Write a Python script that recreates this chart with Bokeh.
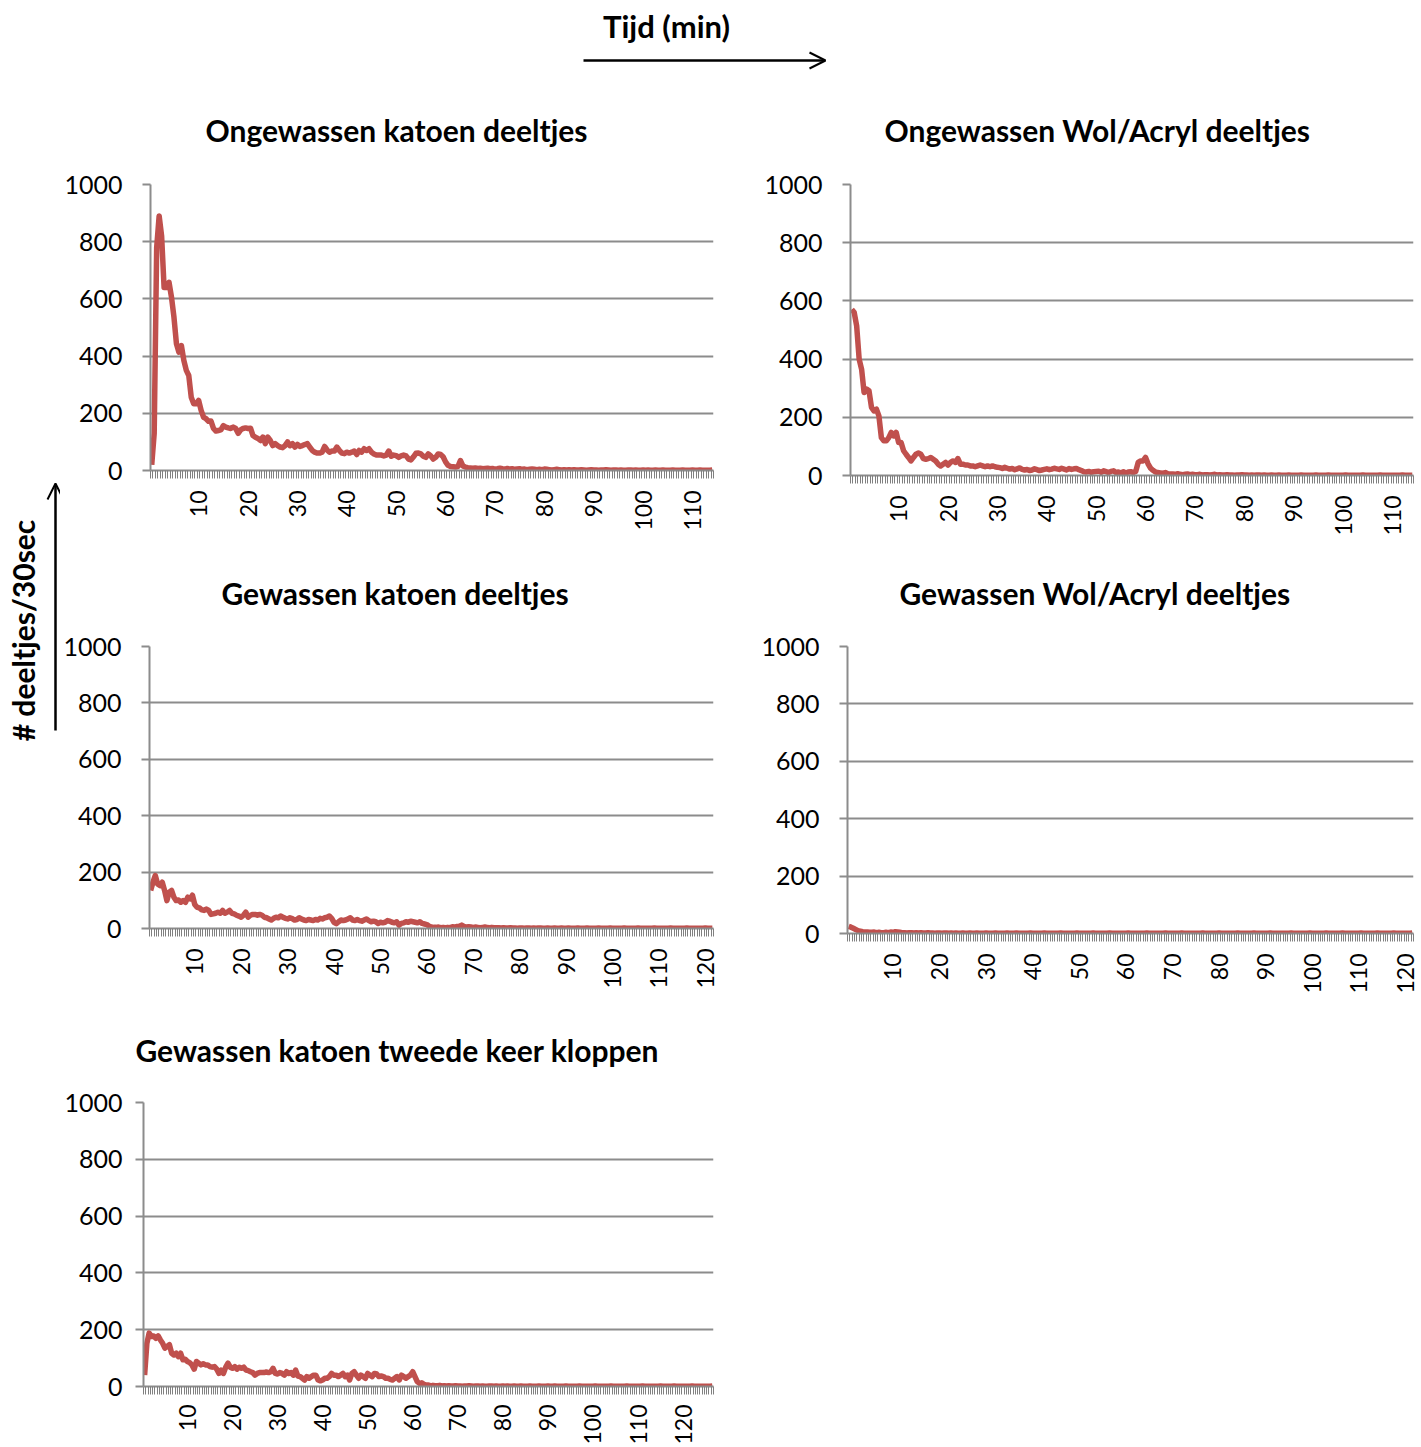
from math import pi
from bokeh.plotting import figure
from bokeh.models import Range1d, FixedTicker, Label, Arrow, OpenHead, Title
from bokeh.layouts import column, row
from bokeh.embed import file_html
from bokeh.resources import INLINE

# ---------------- data (particles per 30 s, one value per 0.5 min) ----------------
titles = ["Ongewassen katoen deeltjes", "Ongewassen Wol/Acryl deeltjes",
          "Gewassen katoen deeltjes", "Gewassen Wol/Acryl deeltjes",
          "Gewassen katoen tweede keer kloppen"]

ongewassen_katoen = [
    20, 130, 780, 890, 820, 640, 640, 658, 606, 536,
    443, 414, 437, 385, 350, 332, 256, 233, 233, 245,
    210, 186, 181, 172, 173, 147, 138, 140, 142, 157,
    152, 149, 147, 152, 147, 130, 142, 147, 149, 147,
    148, 122, 116, 112, 105, 117, 94, 117, 105, 87,
    94, 87, 82, 80, 87, 100, 87, 94, 82, 91,
    84, 87, 91, 94, 82, 70, 64, 61, 61, 64,
    84, 72, 64, 68, 68, 82, 70, 61, 59, 64,
    61, 64, 68, 56, 70, 64, 76, 70, 76, 64,
    58, 54, 54, 54, 51, 54, 68, 50, 54, 52,
    46, 51, 54, 51, 40, 37, 48, 60, 61, 58,
    50, 46, 58, 51, 40, 46, 58, 56, 48, 30,
    18, 14, 13, 12, 14, 35, 16, 12, 10, 9,
    8, 9, 7, 8, 6, 7, 8, 6, 7, 5,
    6, 8, 6, 5, 7, 5, 6, 4, 5, 6,
    4, 5, 3, 4, 5, 4, 3, 4, 3, 5,
    4, 3, 2, 3, 4, 3, 2, 3, 2, 3,
    2, 3, 2, 2, 3, 2, 1, 2, 3, 2,
    2, 1, 2, 2, 3, 2, 1, 2, 2, 1,
    2, 1, 1, 2, 2, 1, 2, 1, 1, 2,
    1, 2, 1, 1, 2, 1, 1, 2, 1, 1,
    1, 2, 1, 1, 1, 2, 1, 1, 1, 2,
    1, 1, 2, 1, 1, 1, 1, 2]

ongewassen_wol = [
    571, 560, 514, 400, 365, 285, 297, 291, 234, 222,
    228, 205, 130, 119, 119, 130, 148, 136, 148, 113,
    113, 85, 73, 62, 50, 62, 73, 77, 73, 58,
    56, 58, 62, 56, 50, 39, 33, 39, 45, 36,
    45, 50, 45, 58, 39, 39, 36, 36, 33, 33,
    30, 33, 36, 33, 30, 33, 30, 33, 30, 28,
    27, 24, 28, 25, 22, 24, 20, 23, 26, 21,
    19, 21, 17, 19, 23, 20, 17, 19, 21, 23,
    20, 22, 25, 23, 21, 25, 22, 19, 24, 21,
    23, 24, 20, 17, 13, 12, 14, 11, 13, 14,
    15, 11, 16, 13, 10, 14, 16, 10, 12, 9,
    13, 8, 12, 13, 10, 14, 45, 50, 50, 62,
    40, 25, 18, 12, 10, 9, 8, 10, 6, 5,
    5, 4, 6, 4, 3, 4, 5, 3, 4, 3,
    3, 4, 2, 3, 3, 2, 3, 4, 2, 3,
    2, 2, 3, 2, 2, 1, 2, 2, 3, 2,
    2, 1, 2, 1, 2, 2, 1, 2, 1, 1,
    2, 1, 1, 2, 1, 1, 1, 2, 1, 1,
    1, 1, 2, 1, 1, 1, 1, 1, 2, 1,
    1, 1, 1, 2, 1, 1, 1, 1, 1, 1,
    2, 1, 1, 1, 1, 1, 1, 2, 1, 1,
    1, 1, 1, 1, 2, 1, 1, 1, 1, 1,
    1, 1, 1, 2, 1, 1, 1, 1]

gewassen_katoen = [
    135, 164, 188, 158, 152, 164, 135, 99, 129, 135,
    111, 99, 101, 93, 99, 93, 111, 105, 118, 85,
    75, 73, 66, 64, 69, 64, 50, 52, 54, 58,
    54, 64, 54, 58, 64, 54, 52, 47, 44, 40,
    47, 58, 40, 47, 50, 50, 47, 50, 47, 40,
    38, 34, 30, 36, 40, 38, 44, 40, 36, 34,
    38, 35, 30, 32, 38, 34, 30, 28, 32, 30,
    28, 32, 30, 36, 34, 38, 40, 44, 36, 22,
    17, 24, 30, 28, 30, 34, 38, 30, 28, 32,
    28, 26, 30, 34, 28, 24, 26, 24, 18, 22,
    20, 22, 28, 26, 22, 20, 24, 12, 18, 20,
    24, 22, 26, 24, 22, 20, 24, 18, 16, 14,
    8, 5, 4, 4, 5, 3, 4, 3, 4, 3,
    6, 5, 7, 8, 12, 7, 5, 6, 5, 4,
    5, 4, 3, 4, 5, 4, 3, 4, 3, 3,
    3, 2, 3, 2, 2, 3, 2, 2, 1, 2,
    2, 1, 2, 2, 1, 2, 1, 2, 2, 1,
    1, 2, 1, 1, 2, 1, 1, 2, 1, 1,
    2, 1, 1, 1, 2, 1, 1, 1, 2, 1,
    1, 1, 1, 2, 1, 1, 1, 1, 2, 1,
    1, 1, 1, 1, 2, 1, 1, 1, 1, 1,
    2, 1, 1, 1, 1, 1, 1, 2, 1, 1,
    1, 1, 1, 1, 2, 1, 1, 1, 1, 1,
    1, 2, 1, 1, 1, 1, 1, 1, 1, 2,
    1, 1, 1]

gewassen_wol = [
    25, 22, 18, 14, 10, 8, 6, 5, 5, 4,
    4, 5, 3, 4, 3, 3, 4, 3, 5, 4,
    6, 5, 4, 3, 3, 2, 3, 3, 2, 3,
    2, 3, 2, 2, 3, 2, 2, 1, 2, 2,
    1, 2, 2, 1, 2, 1, 2, 1, 1, 2,
    1, 1, 2, 1, 1, 2, 1, 1, 1, 2,
    1, 1, 1, 2, 1, 1, 1, 1, 2, 1,
    1, 1, 2, 1, 1, 1, 1, 1, 2, 1,
    1, 1, 1, 1, 2, 1, 1, 1, 1, 1,
    1, 2, 1, 1, 1, 1, 1, 1, 2, 1,
    1, 1, 1, 1, 1, 2, 1, 1, 1, 1,
    1, 1, 2, 1, 1, 1, 1, 1, 1, 1,
    2, 1, 1, 1, 1, 1, 1, 1, 2, 1,
    1, 1, 1, 1, 1, 1, 2, 1, 1, 1,
    1, 1, 1, 2, 1, 1, 1, 1, 1, 1,
    1, 1, 2, 1, 1, 1, 1, 1, 1, 2,
    1, 1, 1, 1, 1, 1, 1, 2, 1, 1,
    1, 1, 1, 1, 2, 1, 1, 1, 1, 1,
    1, 2, 1, 1, 1, 1, 1, 1, 1, 1,
    2, 1, 1, 1, 1, 1, 1, 1, 2, 1,
    1, 1, 1, 1, 1, 2, 1, 1, 1, 1,
    1, 1, 2, 1, 1, 1, 1, 1, 1, 1,
    2, 1, 1, 1, 1, 1, 1, 2, 1, 1,
    1, 1, 1, 1, 2, 1, 1, 1, 1, 1,
    1, 1, 2]

gewassen_katoen_2 = [
    40, 152, 188, 176, 178, 170, 178, 164, 152, 135,
    141, 147, 117, 111, 117, 105, 117, 94, 96, 88,
    84, 76, 61, 88, 82, 76, 80, 76, 76, 70,
    68, 70, 61, 46, 58, 46, 68, 82, 68, 64,
    70, 61, 68, 64, 68, 58, 56, 52, 49, 40,
    46, 49, 49, 49, 51, 49, 52, 64, 46, 44,
    49, 46, 40, 52, 46, 49, 40, 58, 37, 35,
    29, 23, 35, 29, 35, 40, 40, 23, 20, 23,
    29, 29, 35, 46, 40, 40, 35, 40, 46, 35,
    40, 23, 46, 52, 40, 29, 40, 35, 29, 46,
    40, 35, 46, 44, 35, 37, 35, 29, 29, 25,
    23, 29, 35, 23, 40, 35, 29, 35, 40, 52,
    35, 17, 11, 13, 8, 5, 5, 2, 4, 3,
    3, 4, 2, 3, 2, 3, 2, 2, 3, 2,
    2, 1, 2, 2, 3, 2, 1, 2, 2, 1,
    2, 1, 1, 2, 2, 1, 2, 1, 1, 2,
    1, 2, 1, 1, 2, 1, 1, 2, 1, 1,
    1, 2, 1, 1, 1, 2, 1, 1, 1, 2,
    1, 1, 2, 1, 1, 1, 1, 2, 1, 1,
    1, 1, 1, 2, 1, 1, 1, 1, 1, 1,
    2, 1, 1, 1, 1, 1, 1, 2, 1, 1,
    1, 1, 1, 1, 2, 1, 1, 1, 1, 1,
    1, 2, 1, 1, 1, 1, 1, 1, 1, 2,
    1, 1, 1, 1, 1, 2, 1, 1, 1, 1,
    1, 1, 1, 2, 1, 1, 1, 1, 1, 1,
    1, 1, 2]

y_ticks = [0, 200, 400, 600, 800, 1000]
x_ticks_short = [10, 20, 30, 40, 50, 60, 70, 80, 90, 100, 110]
x_ticks_long = [10, 20, 30, 40, 50, 60, 70, 80, 90, 100, 110, 120]
step_min = 0.5  # one sample every 30 s

LINE = "#C0504D"
GRID = "#8C8C8C"
TICK = "#808080"
FONT = "Lato"


def panel(title, values, xticks, mbl, mbr, mbt, mbb, fw, fh, toff, gap, xstand, ystand):
    n = len(values)
    t = [step_min * (i + 1) for i in range(n)]
    lo = step_min / 2
    hi = lo + step_min * n
    p = figure(frame_width=fw, frame_height=fh,
               x_range=Range1d(lo, hi), y_range=Range1d(0, 1000),
               output_backend="svg", toolbar_location=None,
               min_border_left=mbl, min_border_right=mbr,
               min_border_top=mbt, min_border_bottom=mbb)
    p.outline_line_color = None
    p.background_fill_color = "white"
    p.border_fill_color = "white"
    # spacer lifts the real title away from the plot area
    p.add_layout(Title(text=" ", text_font_size="1px", standoff=gap), "above")
    p.add_layout(Title(text=title, align="left", offset=toff, standoff=0,
                       text_font=FONT, text_font_style="bold",
                       text_font_size="30px", text_color="black"), "above")

    p.xgrid.grid_line_color = None
    p.ygrid.grid_line_color = GRID
    p.ygrid.grid_line_width = 2

    boundaries = [lo + step_min * j for j in range(n + 1)]
    p.xaxis.ticker = FixedTicker(ticks=xticks, minor_ticks=boundaries)
    p.xaxis.major_label_orientation = pi / 2
    p.xaxis.major_tick_out = 0
    p.xaxis.major_tick_in = 0
    p.xaxis.minor_tick_out = 8
    p.xaxis.minor_tick_in = 0
    p.xaxis.minor_tick_line_color = TICK
    p.xaxis.minor_tick_line_width = 1
    p.xaxis.axis_line_color = GRID
    p.xaxis.axis_line_width = 2
    p.xaxis.major_label_standoff = xstand
    p.xaxis.major_label_text_font_size = "23px"

    p.yaxis.ticker = FixedTicker(ticks=y_ticks, minor_ticks=[])
    p.yaxis.major_tick_out = 8
    p.yaxis.major_tick_in = 0
    p.yaxis.major_tick_line_color = GRID
    p.yaxis.major_tick_line_width = 2
    p.yaxis.minor_tick_line_color = None
    p.yaxis.axis_line_color = GRID
    p.yaxis.axis_line_width = 2
    p.yaxis.major_label_standoff = ystand
    p.yaxis.major_label_text_font_size = "25px"

    for ax in (p.xaxis, p.yaxis):
        ax.major_label_text_font = FONT
        ax.major_label_text_color = "black"

    p.line(t, values, line_color=LINE, line_width=5.5, line_join="round")
    return p


p1 = panel(titles[0], ongewassen_katoen, x_ticks_short, 90, 27, 89, 85, 563, 286, 55, 33.7, 12, 20)
p2 = panel(titles[1], ongewassen_wol, x_ticks_short, 110, 8, 87, 82, 563, 291, 34, 33.7, 12, 20)
p3 = panel(titles[2], gewassen_katoen, x_ticks_long, 89, 27, 91, 82, 564, 282, 72, 32.7, 12, 20)
p4 = panel(titles[3], gewassen_wol, x_ticks_long, 107, 8, 91, 77, 566, 287, 52, 32.7, 12, 20)
p5 = panel(titles[4], gewassen_katoen_2, x_ticks_long, 83, 27, 92, 61, 570, 284, -8, 31.7, 10, 13)


def blank(w, h):
    f = figure(width=w, height=h, x_range=Range1d(0, w), y_range=Range1d(h, 0),
               output_backend="svg", toolbar_location=None,
               x_axis_location=None, y_axis_location=None,
               min_border=0)
    f.grid.visible = False
    f.outline_line_color = None
    f.background_fill_color = "white"
    f.border_fill_color = "white"
    return f


header = blank(1421, 95)
header.add_layout(Label(x=666, y=25, text="Tijd (min)", text_align="center",
                        text_baseline="middle", text_font=FONT,
                        text_font_style="bold", text_font_size="31px",
                        text_color="black"))
header.add_layout(Arrow(end=OpenHead(size=16, line_width=2, line_color="black"),
                        x_start=583, y_start=60, x_end=825, y_end=60,
                        line_width=2.5, line_color="black"))

strip = blank(60, 1352)
strip.add_layout(Label(x=22, y=535, text="# deeltjes/30sec", angle=pi / 2,
                       text_align="center", text_baseline="middle",
                       text_font=FONT, text_font_style="bold",
                       text_font_size="30px", text_color="black"))
strip.add_layout(Arrow(end=OpenHead(size=16, line_width=2, line_color="black"),
                       x_start=55, y_start=635, x_end=55, y_end=388,
                       line_width=2.5, line_color="black"))

layout = column(header, row(strip, column(row(p1, p2), row(p3, p4), row(p5))))

open("out.html", "w").write(file_html(layout, INLINE))
